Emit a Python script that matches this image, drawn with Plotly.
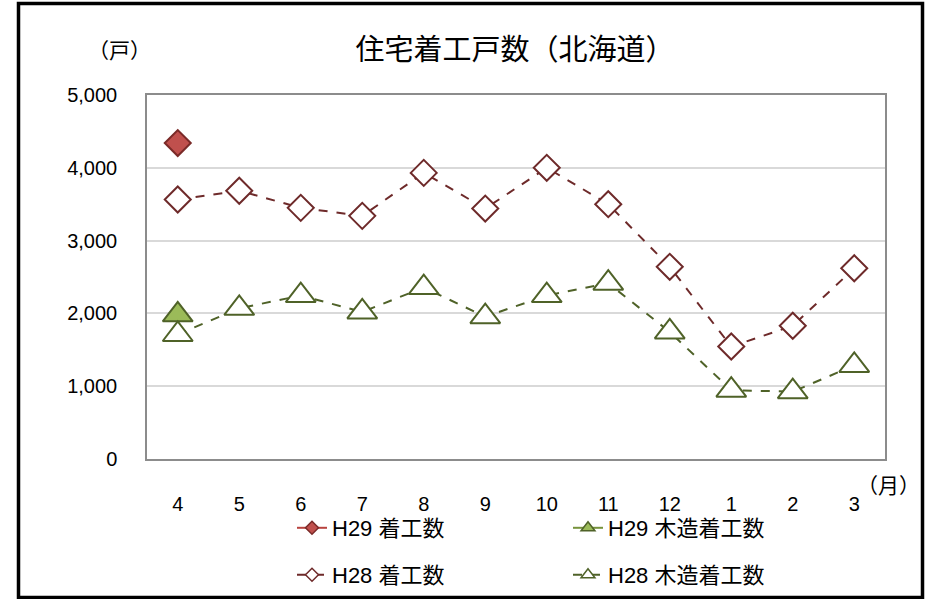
import plotly.graph_objects as go

months = ["4", "5", "6", "7", "8", "9", "10", "11", "12", "1", "2", "3"]
h29_total = [4340, None, None, None, None, None, None, None, None, None, None, None]
h29_wood = [1980, None, None, None, None, None, None, None, None, None, None, None]
h28_total = [3565, 3685, 3450, 3340, 3930, 3440, 4000, 3500, 2640, 1545, 1830, 2620]
h28_wood = [1710, 2070, 2245, 2020, 2355, 1955, 2245, 2415, 1745, 945, 925, 1285]

CJK = "Noto Sans CJK JP"
LAT = "Liberation Sans, Noto Sans CJK JP"
W, H = 926, 599
L, R, T, B = 147, 885, 95, 459

def px(x):
    return (x - L) / (R - L)

def py(y):
    return (B - y) / (B - T)

styles = {
    "H29 着工数": dict(line=dict(color="#B8433F", width=2),
                    mcolor="#C0504D", mline="#7A2A28", symbol="diamond", size=20, lsize=10),
    "H29 木造着工数": dict(line=dict(color="#77933C", width=2),
                      mcolor="#9BBB59", mline="#4F6228", symbol="triangle-up", size=26, lsize=12),
    "H28 着工数": dict(line=dict(color="#6E2A2A", width=2, dash="dash"),
                    mcolor="white", mline="#6E2A2A", symbol="diamond", size=20, lsize=10),
    "H28 木造着工数": dict(line=dict(color="#4F6228", width=2, dash="dash"),
                      mcolor="white", mline="#4F6228", symbol="triangle-up", size=26, lsize=12),
}
series = [("H29 着工数", h29_total, "legend"),
          ("H29 木造着工数", h29_wood, "legend2"),
          ("H28 着工数", h28_total, "legend3"),
          ("H28 木造着工数", h28_wood, "legend4")]

fig = go.Figure()
# data traces (order: H29 first, then H28 drawn on top)
for name, vals, lg in series:
    s = styles[name]
    fig.add_trace(go.Scatter(
        x=months, y=vals, name=name, mode="lines+markers", showlegend=False,
        line=s["line"],
        marker=dict(symbol=s["symbol"], size=s["size"], color=s["mcolor"],
                    line=dict(color=s["mline"], width=2))))
# legend-only entries with smaller symbols
for name, vals, lg in series:
    s = styles[name]
    fig.add_trace(go.Scatter(
        x=[months[0]], y=[None], name=name, mode="lines+markers", showlegend=True,
        legend=lg, line=s["line"],
        marker=dict(symbol=s["symbol"], size=s["lsize"], color=s["mcolor"],
                    line=dict(color=s["mline"], width=1.5))))

leg_common = dict(xref="container", yref="container", xanchor="left",
                  yanchor="middle", font=dict(family=LAT, size=22, color="#000"),
                  bgcolor="rgba(0,0,0,0)", borderwidth=0)

def leg(xp, yp):
    d = dict(leg_common)
    d.update(x=xp / W, y=1 - yp / H)
    return d

fig.update_layout(
    width=W, height=H, showlegend=True,
    margin=dict(l=L, r=W - R, t=T, b=H - B, autoexpand=False),
    paper_bgcolor="white", plot_bgcolor="white",
    font=dict(family=LAT, size=20, color="#000"),
    title=dict(text="住宅着工戸数（北海道）", x=515 / W, xref="container",
               xanchor="center", y=1 - 50 / H, yref="container", yanchor="middle",
               font=dict(family=CJK, size=29, color="#000")),
    legend=leg(292, 528),
    legend2=leg(568, 528),
    legend3=leg(292, 575),
    legend4=leg(568, 575),
    xaxis=dict(type="category", range=[-0.5, 11.5], showgrid=False,
               showline=True, linecolor="#8C8C8C", linewidth=1.5, mirror=True,
               ticks="", ticklabelstandoff=26, automargin=False,
               tickfont=dict(family=LAT, size=20, color="#000")),
    yaxis=dict(range=[0, 5000], dtick=1000, tickformat=",", showgrid=True,
               gridcolor="#D9D9D9", gridwidth=1.5, zeroline=False,
               showline=True, linecolor="#8C8C8C", linewidth=1.5, mirror=True,
               ticks="", ticklabelstandoff=24, automargin=False,
               tickfont=dict(family=LAT, size=20, color="#000")),
    annotations=[
        dict(text="（戸）", x=px(119), y=py(49), xref="paper", yref="paper",
             showarrow=False, xanchor="center", yanchor="middle",
             font=dict(family=CJK, size=21, color="#000")),
        dict(text="（月）", x=px(888), y=py(484), xref="paper", yref="paper",
             showarrow=False, xanchor="center", yanchor="middle",
             font=dict(family=CJK, size=21, color="#000")),
    ],
    shapes=[
        dict(type="rect", xref="paper", yref="paper",
             x0=px(18.5), x1=px(922.5), y0=py(3.5), y1=py(597.5),
             line=dict(color="black", width=3.5), fillcolor="rgba(0,0,0,0)",
             layer="above"),
    ],
)

fig.write_html("out.html", config={"displayModeBar": False},
               post_script="document.body.style.margin='0px';")
